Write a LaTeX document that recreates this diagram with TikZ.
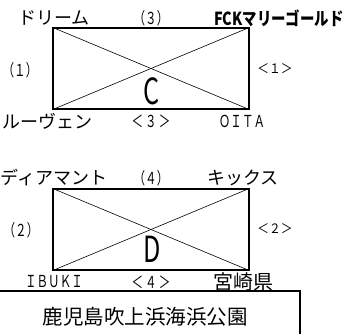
\documentclass[tikz,border=0pt]{standalone}
\usepackage{fontspec}
\setmainfont{Noto Sans CJK JP}
\newfontfamily\jp{Noto Sans CJK JP}
\newfontfamily\jpc[FakeStretch=0.8]{Noto Sans CJK JP}
\newfontfamily\jpw[FakeStretch=0.7]{Noto Sans CJK JP}
\newfontfamily\jps[FakeStretch=0.9]{Noto Sans CJK JP}
\newfontfamily\jpn[FakeStretch=0.7]{Noto Sans CJK JP}
\begin{document}
\begin{tikzpicture}[x=1pt,y=-1pt,
  lbl/.style={inner sep=0pt,anchor=center,font=\jp\fontsize{18}{20}\selectfont},
  num/.style={inner sep=0pt,anchor=center,font=\jpw\fontsize{16.5}{18}\selectfont},
  small/.style={inner sep=0pt,anchor=center,font=\jps\fontsize{13}{15}\selectfont},
  big/.style={inner sep=0pt,anchor=center,font=\jpn\fontsize{36}{38}\selectfont},
  court/.style={draw,line width=1.4pt,minimum width=196pt,minimum height=81pt,inner sep=0pt},
  diag/.style={line width=0.6pt}]
\useasboundingbox (0,0) rectangle (348,334);
% court C
\node[court] (bc) at (151,68.5) {};
\draw[diag] (bc.north west) -- (bc.south east);
\draw[diag] (bc.south west) -- (bc.north east);
\node[big] (lc) at (152,91) {C};
\node[lbl] (t1) at (54,18) {ドリーム};
\node[num] (t2) at (151,18) {（３）};
\node[inner sep=0pt,anchor=center,font=\jpc\bfseries\fontsize{18}{20}\selectfont] (t3) at (279,18) {FCKマリーゴールド};
\node[num] (t4) at (20,70) {（１）};
\node[small] (t5) at (275,69) {＜１＞};
\node[lbl] (t6) at (47,121) {ルーヴェン};
\node[num] (t7) at (151,121) {＜\hspace{2pt}３\hspace{2pt}＞};
\node[num] (t8) at (242,121) {ＯＩＴＡ};
% court D
\node[court] (bd) at (151,229.5) {};
\draw[diag] (bd.north west) -- (bd.south east);
\draw[diag] (bd.south west) -- (bd.north east);
\node[big] (ld) at (152,249) {D};
\node[lbl] (u1) at (54,178) {ディアマント};
\node[num] (u2) at (151,178) {（４）};
\node[lbl] (u3) at (243,178) {キックス};
\node[num] (u4) at (21,230) {（２）};
\node[small] (u5) at (275,229) {＜２＞};
\node[num] (u6) at (54,282) {ＩＢＵＫＩ};
\node[num] (u7) at (151,282) {＜\hspace{2pt}４\hspace{2pt}＞};
\node[inner sep=0pt,anchor=center,font=\jp\fontsize{20}{22}\selectfont] (u8) at (243,282) {宮崎県};
% venue box
\begin{scope}
\clip (0,0) rectangle (348,334);
\node[draw,line width=1.4pt,minimum width=310pt,minimum height=60pt,inner sep=0pt] (vb) at (145,321) {};
\end{scope}
\node[inner sep=0pt,anchor=center,font=\jp\fontsize{20.5}{22}\selectfont] (vt) at (145,317) {鹿児島吹上浜海浜公園};
\end{tikzpicture}
\end{document}
